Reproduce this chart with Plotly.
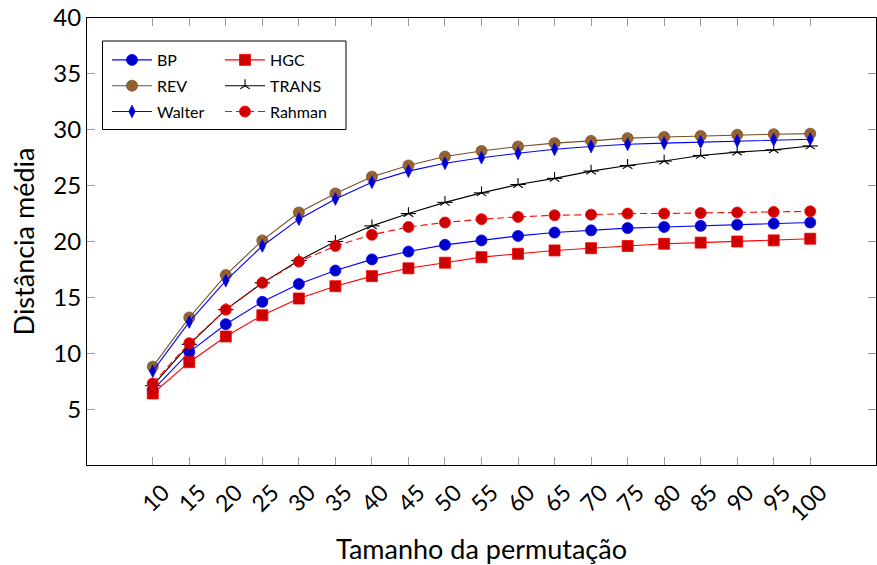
import plotly.graph_objects as go

x_vals = [10, 15, 20, 25, 30, 35, 40, 45, 50, 55, 60, 65, 70, 75, 80, 85, 90, 95, 100]

bp = [6.7, 10.1, 12.6, 14.6, 16.2, 17.4, 18.4, 19.1, 19.7, 20.1, 20.5, 20.8, 21.0, 21.2, 21.3, 21.4, 21.5, 21.6, 21.7]
hgc = [6.4, 9.2, 11.5, 13.4, 14.9, 16.0, 16.9, 17.6, 18.1, 18.6, 18.9, 19.2, 19.4, 19.6, 19.8, 19.9, 20.0, 20.1, 20.25]
rev = [8.8, 13.2, 17.0, 20.1, 22.6, 24.3, 25.8, 26.8, 27.6, 28.1, 28.5, 28.8, 29.0, 29.25, 29.35, 29.45, 29.55, 29.6, 29.65]
trans = [7.1, 10.8, 13.9, 16.3, 18.3, 20.0, 21.4, 22.5, 23.5, 24.35, 25.1, 25.65, 26.3, 26.8, 27.2, 27.7, 28.0, 28.2, 28.55]
walter = [8.4, 12.8, 16.5, 19.6, 22.0, 23.8, 25.3, 26.3, 27.0, 27.5, 27.9, 28.25, 28.5, 28.7, 28.8, 28.9, 29.0, 29.1, 29.15]
rahman = [7.3, 10.9, 13.9, 16.3, 18.2, 19.6, 20.6, 21.3, 21.7, 22.0, 22.2, 22.35, 22.4, 22.5, 22.5, 22.55, 22.6, 22.65, 22.7]

y_ticks = [5, 10, 15, 20, 25, 30, 35, 40]

FONT = "Lato"
W, H = 877, 565
L, R, T, B = 87, 876, 18, 465


def px_x(p):
    return (p - L) / (R - L)


def px_y(p):
    return (B - p) / (B - T)


fig = go.Figure()

LW = 1.1


def add(name, y, line_color, fill, symbol, size, legend, dash="solid"):
    fig.add_trace(go.Scatter(
        x=x_vals, y=y, name=name, mode="lines+markers",
        line=dict(color=line_color, width=LW, dash=dash),
        marker=dict(symbol=symbol, size=size, color=fill,
                    line=dict(color=line_color, width=0.8)),
        legend=legend, legendgroup=name,
    ))


add("BP", bp, "#0000FF", "#0000CC", "circle", 11, "legend")
add("HGC", hgc, "#FF0000", "#CC0000", "square", 11, "legend2")
add("REV", rev, "#734D26", "#996633", "circle-x", 11, "legend")
# TRANS star: 3-arm + horizontal bar to approximate 5-arm star
fig.add_trace(go.Scatter(
    x=x_vals, y=trans, name="TRANS", mode="lines+markers",
    line=dict(color="black", width=LW),
    marker=dict(symbol="y-up-open", size=8, color="black",
                line=dict(color="black", width=1.1)),
    legend="legend2", legendgroup="TRANS",
))
fig.add_trace(go.Scatter(
    x=x_vals, y=trans, name="TRANS", mode="markers", showlegend=False,
    marker=dict(symbol="line-ew-open", size=11, color="black",
                line=dict(color="black", width=1.1)),
    legend="legend2", legendgroup="TRANS", hoverinfo="skip",
))
add("Walter", walter, "#0000FF", "#0000CC", "diamond-tall", 9, "legend")
add("Rahman", rahman, "#FF0000", "#CC0000", "circle", 11, "legend2", dash="7px,4px")

leg_common = dict(
    font=dict(family=FONT, size=16, color="black"),
    bgcolor="rgba(0,0,0,0)", borderwidth=0,
    xanchor="left", yanchor="top",
    tracegroupgap=2, itemwidth=40,
)

fig.update_layout(
    width=W, height=H,
    margin=dict(l=L, r=W - R, t=T, b=H - B),
    paper_bgcolor="white", plot_bgcolor="white",
    font=dict(family=FONT, size=22, color="black"),
    legend=dict(x=px_x(107), y=px_y(43), **leg_common),
    legend2=dict(x=px_x(220), y=px_y(43), **leg_common),
    xaxis=dict(
        range=[1, 109], tickvals=x_vals, ticktext=[str(v) for v in x_vals],
        tickangle=-45, ticks="inside", ticklen=8, tickwidth=1.3, tickcolor="#9a9a9a",
        showline=True, linecolor="black", linewidth=1.2, mirror="ticks",
        showgrid=False, zeroline=False, ticklabelshift=10, ticklabelstandoff=4,
        tickfont=dict(family=FONT, size=23),
        title=dict(text="Tamanho da permutação", font=dict(family=FONT, size=27), standoff=18),
    ),
    yaxis=dict(
        range=[0, 40], tickvals=y_ticks,
        ticks="inside", ticklen=8, tickwidth=1.3, tickcolor="#9a9a9a",
        showline=True, linecolor="black", linewidth=1.2, mirror="ticks",
        showgrid=False, zeroline=False,
        tickfont=dict(family=FONT, size=24),
        title=dict(text="Distância média", font=dict(family=FONT, size=27), standoff=10),
    ),
    shapes=[dict(type="rect", xref="paper", yref="paper",
                 x0=px_x(102.5), x1=px_x(346), y0=px_y(129.5), y1=px_y(41),
                 line=dict(color="black", width=1), fillcolor="rgba(0,0,0,0)")],
    showlegend=True,
)

fig.write_html("out.html")
